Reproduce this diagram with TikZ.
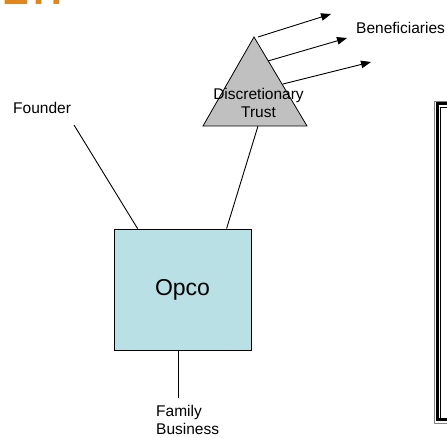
\documentclass[tikz,border=0pt]{standalone}
\usepackage{fontspec}
\setmainfont{Liberation Sans}
\usetikzlibrary{arrows.meta,calc}
\definecolor{opcofill}{RGB}{185,224,228}
\definecolor{trustfill}{RGB}{192,192,192}
\definecolor{titleorange}{RGB}{224,134,28}
\definecolor{framegray}{RGB}{130,130,130}
\tikzset{
  lbl/.style={inner sep=0pt, font=\fontsize{15.5}{18}\selectfont},
  link/.style={draw=black, line width=0.9pt},
  benarrow/.style={draw=black, line width=0.9pt,
    -{Triangle[length=10pt,width=7.5pt,fill=black]}},
}
\begin{document}
\begin{tikzpicture}[x=1pt,y=1pt]
  % coordinates below are given as (x, 438 - y) with y measured downwards
  \useasboundingbox (0,0) rectangle (447,438);
  \fill[white] (0,0) rectangle (447,438);

  % heading, mostly above the page edge
  \node[anchor=base west, inner sep=0pt, text=titleorange,
        font=\fontsize{40}{40}\selectfont\bfseries] (title) at (2,433) {E\kern5pt H};

  % company box
  \node[draw=black, line width=0.8pt, fill=opcofill, minimum width=137pt,
        minimum height=121pt, inner sep=0pt, font=\fontsize{23}{26}\selectfont]
        (opco) at (182.5,148.5) {Opco};

  % trust triangle
  \coordinate (apex) at (254,401);
  \coordinate (bl) at (203,312);
  \coordinate (br) at (307,312);
  \filldraw[fill=trustfill, draw=black, line width=0.8pt] (apex) -- (bl) -- (br) -- cycle;
  \node[lbl, align=center] (trust) at (258.5,335) {Discretionary\\Trust};

  % labels
  \node[lbl, anchor=base west] (founder) at (13,324) {Founder};
  \node[lbl, anchor=base west] (benef) at (356,404.5) {Beneficiaries};
  \node[lbl, anchor=north west, align=left] (family) at (156,33) {Family\\Business};

  % connectors
  \coordinate (fstart) at (74,313);
  \draw[link] (fstart) -- ($(opco.north west)+(24,0)$);
  \coordinate (tfoot) at (258,312);
  \draw[link] (tfoot) -- ($(opco.north west)+(113,0)$);
  \coordinate (fbtop) at (178.7,40);
  \draw[link] (opco.south -| fbtop) -- (fbtop);

  % arrows to the beneficiaries
  \coordinate (a1) at (258,401);  \coordinate (e1) at (331,424);
  \coordinate (a2) at (268,377);  \coordinate (e2) at (347,400);
  \coordinate (a3) at (283,354);  \coordinate (e3) at (371,376);
  \draw[benarrow] (a1) -- (e1);
  \draw[benarrow] (a2) -- (e2);
  \draw[benarrow] (a3) -- (e3);

  % framed panel on the right edge
  \draw[framegray, line width=0.8pt] (460,337) -- (434,337) -- (434,15) -- (460,15);
  \draw[black, line width=3pt] (460,334) -- (437.5,334) -- (437.5,18) -- (460,18);
  \draw[black, line width=0.8pt] (460,330.7) -- (440.5,330.7) -- (440.5,20);
\end{tikzpicture}
\end{document}
